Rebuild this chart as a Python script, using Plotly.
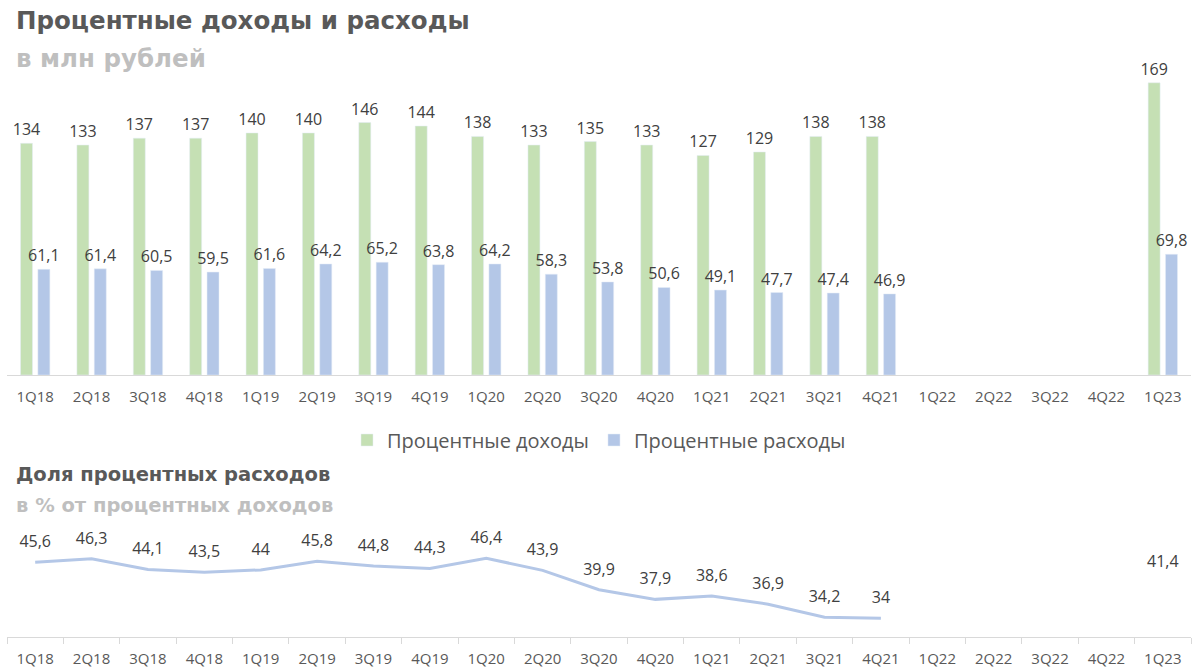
import plotly.graph_objects as go

categories = ['1Q18', '2Q18', '3Q18', '4Q18', '1Q19', '2Q19', '3Q19', '4Q19', '1Q20', '2Q20',
              '3Q20', '4Q20', '1Q21', '2Q21', '3Q21', '4Q21', '1Q22', '2Q22', '3Q22', '4Q22', '1Q23']
income = [134, 133, 137, 137, 140, 140, 146, 144, 138, 133, 135, 133, 127, 129, 138, 138,
          None, None, None, None, 169]
expenses = [61.1, 61.4, 60.5, 59.5, 61.6, 64.2, 65.2, 63.8, 64.2, 58.3, 53.8, 50.6, 49.1, 47.7, 47.4, 46.9,
            None, None, None, None, 69.8]
share = [45.6, 46.3, 44.1, 43.5, 44, 45.8, 44.8, 44.3, 46.4, 43.9, 39.9, 37.9, 38.6, 36.9, 34.2, 34,
         None, None, None, None, 41.4]


def fmt(v):
    return '' if v is None else f"{v:g}".replace('.', ',')


GREEN = '#C5E0B4'
BLUE = '#B4C7E7'
LABEL = '#404040'
TICK = '#595959'
AXIS = '#D9D9D9'
FONT = 'Open Sans'
TFONT = 'DejaVu Sans'

fig = go.Figure()
fig.add_trace(go.Bar(x=categories, y=income, name='Процентные доходы', marker_color=GREEN,
                     text=[fmt(v) for v in income], textposition='outside', constraintext='none',
                     textfont=dict(size=16, color=LABEL, family=FONT), cliponaxis=False,
                     xaxis='x', yaxis='y', hoverinfo='skip'))
fig.add_trace(go.Bar(x=categories, y=expenses, name='Процентные расходы', marker_color=BLUE,
                     text=[fmt(v) for v in expenses], textposition='outside', constraintext='none',
                     textfont=dict(size=16, color=LABEL, family=FONT), cliponaxis=False,
                     xaxis='x', yaxis='y', hoverinfo='skip'))
fig.add_trace(go.Scatter(x=categories, y=share, mode='lines+markers+text', line=dict(color=BLUE, width=3),
                         marker=dict(size=16, opacity=0, color=BLUE),
                         text=[fmt(v) for v in share], textposition='top center',
                         textfont=dict(size=16, color=LABEL, family=FONT), cliponaxis=False,
                         connectgaps=False, showlegend=False, xaxis='x2', yaxis='y2', hoverinfo='skip'))

W, H = 1200, 672
ml, mr = 7, 9
pw = W - ml - mr
xr = [-0.5, len(categories) - 0.5]

fig.update_layout(
    width=W, height=H,
    margin=dict(l=ml, r=mr, t=0, b=0),
    paper_bgcolor='white', plot_bgcolor='white',
    barmode='group', bargap=0.384, bargroupgap=0.31,
    font=dict(family=FONT, color=TICK),
    showlegend=True,
    legend=dict(orientation='h', x=0.5, xanchor='center', y=1 - 440 / H, yanchor='middle',
                font=dict(size=20, color=TICK, family=FONT), itemwidth=30, traceorder='normal'),
    xaxis=dict(domain=[0, 1], anchor='y', type='category', range=xr, showline=True, linecolor=AXIS,
               linewidth=1, ticks='', tickfont=dict(size=15, color=TICK), ticklabelstandoff=8,
               showgrid=False, fixedrange=True),
    yaxis=dict(domain=[0.442, 0.911], range=[0, 182.3], visible=False, showgrid=False, zeroline=False,
               fixedrange=True),
    xaxis2=dict(domain=[0, 1], anchor='y2', type='category', range=xr, showline=True, linecolor=AXIS,
                linewidth=1, ticks='outside', tickson='boundaries', ticklen=6, tickcolor=AXIS,
                ticklabelstandoff=8, tickfont=dict(size=15, color=TICK), showgrid=False, fixedrange=True),
    yaxis2=dict(domain=[0.052, 0.226], range=[30.1, 54.3], visible=False, showgrid=False, zeroline=False,
                fixedrange=True),
)

titles = [
    ('<b>Процентные доходы и расходы</b>', 15, 20, 24.5, '#595959'),
    ('<b>в млн рублей</b>', 15, 58, 24.5, '#BFBFBF'),
    ('<b>Доля процентных расходов</b>', 15, 474, 19.5, '#595959'),
    ('<b>в % от процентных доходов</b>', 15, 505, 19.5, '#BFBFBF'),
]
anns = []
for text, px, py, sz, col in titles:
    anns.append(dict(text=text, xref='paper', yref='paper',
                     x=(px - ml - 1) / pw, y=1 - py / H, xanchor='left', yanchor='middle',
                     showarrow=False, font=dict(family=TFONT, size=sz, color=col)))
fig.update_layout(annotations=anns)

fig.write_html('out.html', config={'displayModeBar': False},
               post_script="document.body.style.margin='0';")
